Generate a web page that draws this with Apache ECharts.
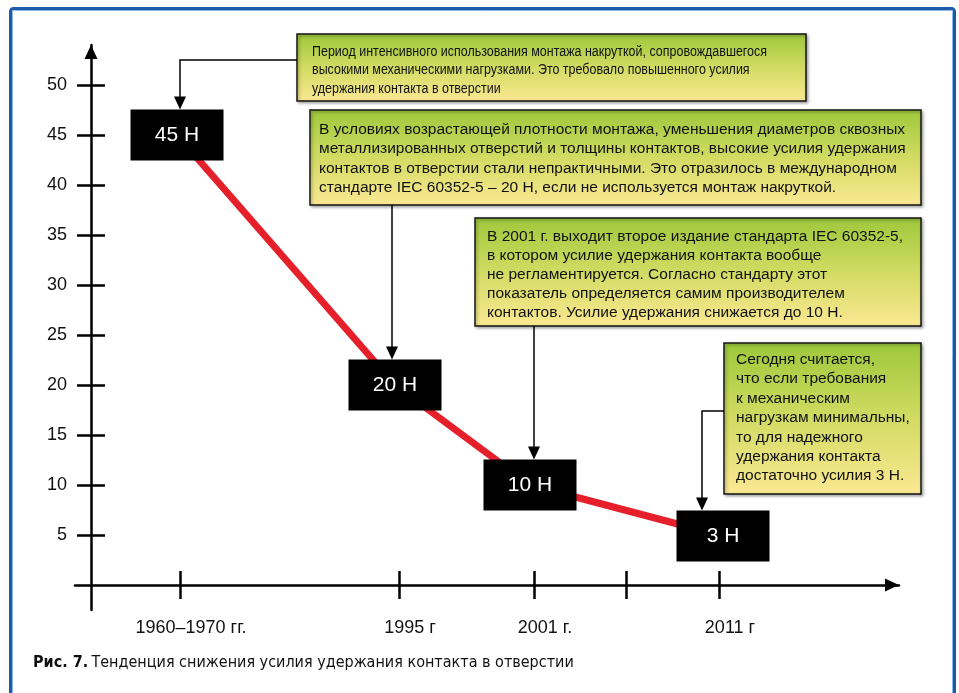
<!DOCTYPE html>
<html><head><meta charset="utf-8">
<script src="https://cdn.jsdelivr.net/npm/echarts@6/dist/echarts.min.js"></script>
<style>html,body{margin:0;padding:0;background:#fff}#c{width:959px;height:693px}</style>
</head><body><div id="c"></div>
<script>
// ---- data ----
const pointX = [8.6, 30.4, 43.9, 63.2];           // horizontal position of each period (axis units)
const pointValues = [45, 20, 10, 4.9];              // retention force level as drawn
const pointLabels = ['45 Н', '20 Н', '10 Н', '3 Н'];
const xTickPositions = [8.9, 30.8, 44.3, 53.5, 62.8];
const xTickLabels = ['1960–1970 гг.', '1995 г', '2001 г.', '', '2011 г'];
const yTicks = [5, 10, 15, 20, 25, 30, 35, 40, 45, 50];
const noteTexts = [
  'Период интенсивного использования монтажа накруткой, сопровождавшегося\nвысокими механическими нагрузками. Это требовало повышенного усилия\nудержания контакта в отверстии',
  'В условиях возрастающей плотности монтажа, уменьшения диаметров сквозных\nметаллизированных отверстий и толщины контактов, высокие усилия удержания\nконтактов в отверстии стали непрактичными. Это отразилось в международном\nстандарте IEC 60352-5 – 20 Н, если не используется монтаж накруткой.',
  'В 2001 г. выходит второе издание стандарта IEC 60352-5,\nв котором усилие удержания контакта вообще\nне регламентируется. Согласно стандарту этот\nпоказатель определяется самим производителем\nконтактов. Усилие удержания снижается до 10 Н.',
  'Сегодня считается,\nчто если требования\nк механическим\nнагрузкам минимальны,\nто для надежного\nудержания контакта\nдостаточно усилия 3 Н.'
];
const captionBold = 'Рис. 7.';
const captionText = 'Тенденция снижения усилия удержания контакта в отверстии';

// ---- layout (pixels) ----
const noteBoxes = [
  {x: 297, y: 34, w: 509, h: 67, tx: 15, ty: 8, lh: 18.5, fs: 15.5, sx: 0.805},
  {x: 310, y: 110, w: 611, h: 95, tx: 9, ty: 10, lh: 19.3, fs: 15.5, sx: 1},
  {x: 475, y: 218, w: 446, h: 108, tx: 12, ty: 9, lh: 19.1, fs: 15.5, sx: 1},
  {x: 724, y: 343, w: 197, h: 151, tx: 12, ty: 7, lh: 19.4, fs: 15.5, sx: 1}
];
const FONT = '"Liberation Sans", Arial, sans-serif';

const chart = echarts.init(document.getElementById('c'), null, {renderer: 'canvas'});
const axisLineStyle = {color: '#000', width: 2.5};

const pts = pointX.map((x, i) => [x, pointValues[i]]);

chart.setOption({
  backgroundColor: '#fff',
  animation: false,
  grid: {left: 75, right: 60, top: 45, bottom: 83, containLabel: false},
  xAxis: [{
    type: 'value', min: -1.6, max: 80.8,
    axisLine: {show: true, onZero: true, lineStyle: axisLineStyle,
      symbol: ['none', 'triangle'], symbolSize: [13, 14], symbolOffset: [0, -7]},
    axisTick: {show: true, customValues: xTickPositions, length: 14, lineStyle: axisLineStyle},
    axisLabel: {
      customValues: xTickPositions.filter((v, i) => xTickLabels[i] !== ''),
      formatter: v => xTickLabels[xTickPositions.indexOf(v)],
      margin: 9, fontSize: 18, color: '#111', fontFamily: FONT, padding: [0, 0, 0, 22]
    },
    splitLine: {show: false}
  }, {
    type: 'value', min: -1.6, max: 80.8, position: 'bottom',
    axisLine: {show: false, onZero: true},
    axisTick: {show: true, inside: true, customValues: xTickPositions, length: 14, lineStyle: axisLineStyle},
    axisLabel: {show: false}, splitLine: {show: false}
  }],
  yAxis: [{
    type: 'value', min: -2.5, max: 54,
    axisLine: {show: true, onZero: true, lineStyle: axisLineStyle,
      symbol: ['none', 'triangle'], symbolSize: [13, 14], symbolOffset: [0, -7]},
    axisTick: {show: true, customValues: yTicks, length: 14, lineStyle: axisLineStyle},
    axisLabel: {customValues: yTicks, margin: 8, fontSize: 18, color: '#111', fontFamily: FONT},
    splitLine: {show: false}
  }, {
    type: 'value', min: -2.5, max: 54, position: 'left',
    axisLine: {show: false, onZero: true},
    axisTick: {show: true, inside: true, customValues: yTicks, length: 14, lineStyle: axisLineStyle},
    axisLabel: {show: false}, splitLine: {show: false}
  }],
  series: [{
    type: 'line', data: pts, symbol: 'none', z: 2,
    lineStyle: {color: '#e5202a', width: 7, cap: 'butt'}
  }, {
    type: 'scatter', data: pts, symbolSize: 0, z: 5,
    itemStyle: {color: 'transparent', opacity: 1},
    emphasis: {disabled: true},
    label: {
      show: true, position: 'inside',
      formatter: p => pointLabels[p.dataIndex],
      color: '#fff', fontSize: 21, fontFamily: FONT,
      backgroundColor: '#000', width: 93, height: 51, lineHeight: 51,
      align: 'center', verticalAlign: 'middle', opacity: 1
    }
  }]
});

// ---- annotations ----
const px = pts.map(p => chart.convertToPixel({xAxisIndex: 0, yAxisIndex: 0}, p));
const half = 25.5;
const arrowDefs = [
  [[noteBoxes[0].x, 60], [px[0][0] + 3, 60], [px[0][0] + 3, px[0][1] - half]],
  [[px[1][0] - 3, noteBoxes[1].y + noteBoxes[1].h], [px[1][0] - 3, px[1][1] - half]],
  [[px[2][0] + 4, noteBoxes[2].y + noteBoxes[2].h], [px[2][0] + 4, px[2][1] - half]],
  [[noteBoxes[3].x, 411], [px[3][0] - 21, 411], [px[3][0] - 21, px[3][1] - half]]
];

const gradient = {type: 'linear', x: 0, y: 0, x2: 0, y2: 1, colorStops: [
  {offset: 0, color: '#9cc83b'}, {offset: 0.5, color: '#d2db62'}, {offset: 1, color: '#fbe893'}]};

const graphics = [];
// frame
graphics.push({type: 'rect', z: 0, shape: {x: 10.5, y: 8.5, width: 944, height: 720, r: 3},
  style: {fill: 'none', stroke: '#1b5ba7', lineWidth: 3}, silent: true});
graphics.push({type: 'rect', z: 0, shape: {x: 12.5, y: 10.5, width: 940, height: 716, r: 2},
  style: {fill: 'none', stroke: '#8db7e3', lineWidth: 1}, silent: true});

arrowDefs.forEach(a => {
  const tip = a[a.length - 1];
  const pl = a.slice(0, -1).concat([[tip[0], tip[1] - 12]]);
  graphics.push({type: 'polyline', z: 20, shape: {points: pl}, style: {stroke: '#000', lineWidth: 1.5, fill: null}});
  graphics.push({type: 'polygon', z: 20, shape: {points: [[tip[0] - 6, tip[1] - 13], [tip[0] + 6, tip[1] - 13], [tip[0], tip[1]]]},
    style: {fill: '#000'}});
});

noteBoxes.forEach((b, i) => {
  graphics.push({type: 'group', x: b.x, y: b.y, z: 30, children: [
    {type: 'rect', shape: {x: 0, y: 0, width: b.w, height: b.h},
      style: {fill: gradient, stroke: '#151515', lineWidth: 1.5,
        shadowBlur: 3, shadowOffsetX: 1.5, shadowOffsetY: 1.5, shadowColor: 'rgba(0,0,0,0.35)'}},
    {type: 'text', x: b.tx, y: b.ty, scaleX: b.sx, style: {text: noteTexts[i], font: b.fs + 'px ' + FONT,
      fill: '#111', lineHeight: b.lh, verticalAlign: 'top', align: 'left'}}
  ]});
});

graphics.push({type: 'text', x: 33, y: 663, z: 30, style: {
  text: '{b|' + captionBold + '} {n|' + captionText + '}',
  verticalAlign: 'middle',
  rich: {
    b: {font: 'bold 16px "DejaVu Sans Condensed", "Liberation Sans Narrow", sans-serif', fill: '#111'},
    n: {font: '16px "DejaVu Sans Condensed", "Liberation Sans Narrow", sans-serif', fill: '#111'}
  }
}});

chart.setOption({graphic: graphics});
</script>
</body></html>
